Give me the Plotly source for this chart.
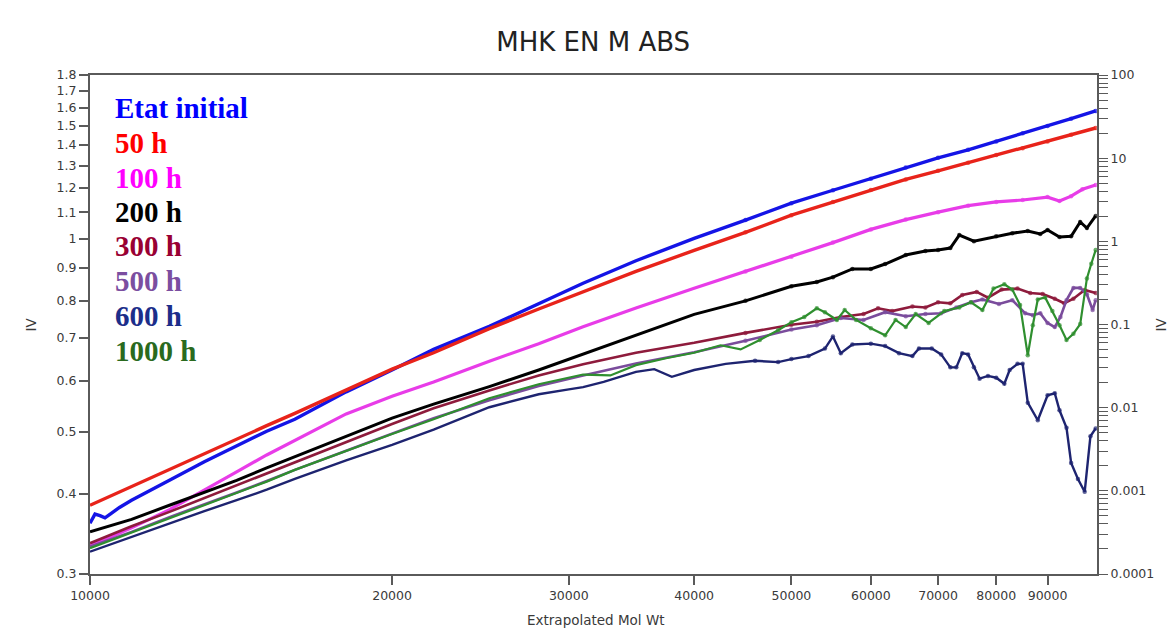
import plotly.graph_objects as go

# ---- Intrinsic viscosity vs extrapolated molecular weight ----
mw_init = [10000, 10115, 10230, 10350, 10500, 10700, 11000, 11500, 12000, 13000, 14000, 15000,
           16000, 18000, 20000, 22000, 25000, 28000, 31000, 35000, 40000, 45000, 50000, 55000,
           60000, 65000, 70000, 75000, 80000, 85000, 90000, 95000, 100500]
iv_init = [0.360, 0.372, 0.370, 0.367, 0.373, 0.381, 0.391, 0.405, 0.420, 0.449, 0.475, 0.501,
           0.523, 0.577, 0.624, 0.672, 0.730, 0.792, 0.852, 0.924, 1.001, 1.069, 1.136, 1.190,
           1.240, 1.291, 1.337, 1.376, 1.418, 1.460, 1.499, 1.539, 1.582]

mw_50 = [10000, 11000, 12000, 13000, 14000, 15000, 16000, 18000, 20000, 22000, 25000, 28000,
         31000, 35000, 40000, 45000, 50000, 55000, 60000, 65000, 70000, 75000, 80000, 85000,
         90000, 95000, 100500]
iv_50 = [0.384, 0.411, 0.437, 0.462, 0.487, 0.511, 0.534, 0.581, 0.626, 0.664, 0.724, 0.777,
         0.827, 0.889, 0.959, 1.023, 1.088, 1.141, 1.191, 1.237, 1.276, 1.314, 1.350, 1.384,
         1.418, 1.452, 1.488]

mw_100 = [10000, 11000, 12000, 13000, 14000, 15000, 16000, 18000, 20000, 22000, 25000, 28000,
          31000, 35000, 40000, 45000, 50000, 55000, 60000, 65000, 70000, 75000, 80000, 85000,
          90000, 92500, 95000, 97500, 100500]
iv_100 = [0.332, 0.354, 0.378, 0.405, 0.433, 0.460, 0.485, 0.533, 0.568, 0.598, 0.644, 0.686,
          0.729, 0.780, 0.837, 0.889, 0.937, 0.986, 1.034, 1.071, 1.100, 1.126, 1.141, 1.149,
          1.161, 1.145, 1.165, 1.194, 1.213]

mw_200 = [10000, 11000, 12000, 13000, 14000, 15000, 16000, 18000, 20000, 22000, 25000, 28000,
          31000, 35000, 40000, 45000, 50000, 53000, 55000, 57500, 60000, 62000, 65000, 68000,
          70000, 72000, 73500, 76000, 80000, 83000, 86000, 88500, 90000, 92500, 95000, 97000,
          98500, 100500]
iv_200 = [0.349, 0.365, 0.384, 0.402, 0.420, 0.439, 0.457, 0.492, 0.525, 0.552, 0.588, 0.624,
          0.661, 0.707, 0.762, 0.800, 0.843, 0.856, 0.871, 0.897, 0.897, 0.913, 0.943, 0.957,
          0.960, 0.967, 1.013, 0.991, 1.009, 1.020, 1.028, 1.017, 1.032, 1.006, 1.009, 1.062,
          1.039, 1.085]

mw_300 = [10000, 11000, 12000, 13000, 14000, 15000, 16000, 18000, 20000, 22000, 25000, 28000,
          31000, 35000, 40000, 45000, 50000, 53000, 56000, 59000, 61000, 63000, 66000, 68000,
          70000, 72000, 74000, 76500, 78500, 81000, 84000, 86500, 89000, 91500, 93500, 95500,
          98000, 100500]
iv_300 = [0.335, 0.356, 0.375, 0.394, 0.412, 0.431, 0.448, 0.482, 0.514, 0.544, 0.580, 0.612,
          0.637, 0.664, 0.688, 0.713, 0.734, 0.742, 0.755, 0.763, 0.779, 0.771, 0.784, 0.781,
          0.796, 0.793, 0.817, 0.826, 0.809, 0.833, 0.836, 0.823, 0.820, 0.806, 0.793, 0.806,
          0.832, 0.823]

mw_500 = [10000, 11000, 12000, 13000, 14000, 15000, 16000, 18000, 20000, 22000, 25000, 28000,
          31000, 35000, 40000, 45000, 50000, 53000, 56000, 59000, 62000, 65000, 68000, 70500,
          73000, 75500, 77500, 80500, 83000, 85500, 87000, 88500, 90000, 91500, 92700, 94000,
          95500, 97000, 98500, 99800, 100500]
iv_500 = [0.331, 0.349, 0.368, 0.385, 0.402, 0.419, 0.436, 0.467, 0.497, 0.525, 0.560, 0.589,
          0.612, 0.639, 0.665, 0.693, 0.722, 0.733, 0.752, 0.747, 0.768, 0.757, 0.763, 0.765,
          0.781, 0.796, 0.804, 0.791, 0.802, 0.765, 0.760, 0.765, 0.739, 0.728, 0.755, 0.802,
          0.838, 0.838, 0.819, 0.774, 0.802]

mw_600 = [10000, 11000, 12000, 13000, 14000, 15000, 16000, 18000, 20000, 22000, 25000, 28000,
          30000, 31000, 32500, 35000, 36500, 38000, 40000, 43000, 46000, 48500, 50000, 52000,
          54000, 55000, 56000, 57500, 60000, 62000, 64000, 66000, 67000, 69000, 70500, 72000,
          73000, 74000, 75000, 76000, 77000, 78500, 80000, 81500, 82500, 84000, 85000, 86000,
          88000, 90000, 91500, 92500, 94000, 95000, 96500, 98000, 99300, 100500]
iv_600 = [0.325, 0.343, 0.360, 0.376, 0.391, 0.406, 0.422, 0.451, 0.477, 0.504, 0.546, 0.572,
          0.582, 0.587, 0.598, 0.620, 0.626, 0.609, 0.624, 0.638, 0.645, 0.642, 0.649, 0.656,
          0.674, 0.704, 0.663, 0.684, 0.686, 0.680, 0.663, 0.656, 0.674, 0.674, 0.660, 0.630,
          0.630, 0.663, 0.660, 0.630, 0.605, 0.611, 0.607, 0.594, 0.624, 0.638, 0.638, 0.555,
          0.521, 0.570, 0.574, 0.540, 0.507, 0.447, 0.422, 0.403, 0.492, 0.506]

mw_1000 = [10000, 11000, 12000, 13000, 14000, 15000, 16000, 18000, 20000, 22000, 25000, 28000,
           31000, 33000, 35000, 37500, 40000, 42500, 44500, 46500, 48500, 50000, 51500, 53000,
           54000, 55500, 56500, 58000, 60000, 62000, 63500, 65000, 66500, 68500, 71000, 73500,
           75500, 77500, 79500, 81500, 83000, 84500, 86000, 87000, 88000, 89500, 91000, 92500,
           94000, 95500, 97000, 98500, 99500, 100500]
iv_1000 = [0.329, 0.348, 0.367, 0.384, 0.402, 0.418, 0.436, 0.467, 0.496, 0.523, 0.564, 0.593,
           0.614, 0.612, 0.635, 0.651, 0.664, 0.682, 0.672, 0.695, 0.720, 0.741, 0.755, 0.779,
           0.768, 0.747, 0.774, 0.747, 0.725, 0.707, 0.747, 0.728, 0.763, 0.739, 0.771, 0.781,
           0.796, 0.774, 0.836, 0.849, 0.833, 0.788, 0.658, 0.733, 0.804, 0.810, 0.771, 0.733,
           0.695, 0.711, 0.736, 0.867, 0.914, 0.960]

series_names = ["Etat initial", "50 h", "100 h", "200 h", "300 h", "500 h", "600 h", "1000 h"]
series_mw = [mw_init, mw_50, mw_100, mw_200, mw_300, mw_500, mw_600, mw_1000]
series_iv = [iv_init, iv_50, iv_100, iv_200, iv_300, iv_500, iv_600, iv_1000]
line_colors = ["#1414E6", "#E8231A", "#E83CE8", "#000000", "#8E1B3C", "#7A4C9C", "#1E2470", "#2F8F2F"]
label_colors = ["#0000FF", "#FF0000", "#FF00FF", "#000000", "#990033", "#7B4EA0", "#1C2E8A", "#2A6A1E"]
line_widths = [3.4, 3.4, 3.2, 3.0, 2.6, 2.6, 2.4, 2.2]

x_ticks = [10000, 20000, 30000, 40000, 50000, 60000, 70000, 80000, 90000]
y_ticks = [0.3, 0.4, 0.5, 0.6, 0.7, 0.8, 0.9, 1.0, 1.1, 1.2, 1.3, 1.4, 1.5, 1.6, 1.7, 1.8]
y_tick_text = ["0.3", "0.4", "0.5", "0.6", "0.7", "0.8", "0.9", "1",
               "1.1", "1.2", "1.3", "1.4", "1.5", "1.6", "1.7", "1.8"]
y2_ticks = [0.0001, 0.001, 0.01, 0.1, 1, 10, 100]
y2_tick_text = ["0.0001", "0.001", "0.01", "0.1", "1", "10", "100"]

fig = go.Figure()

for name, xs, ys, lc, lw in zip(series_names, series_mw, series_iv, line_colors, line_widths):
    # dots mark the sparser, noisier high-mass end of each trace
    sizes = [4.5 if m >= 45000 else 0 for m in xs]
    fig.add_trace(go.Scatter(
        x=xs, y=ys, name=name, mode="lines+markers",
        line=dict(color=lc, width=lw),
        marker=dict(color=lc, size=sizes, line=dict(width=0)),
        showlegend=False,
    ))

# empty trace bound to the secondary (right) axis
fig.add_trace(go.Scatter(x=[], y=[], yaxis="y2", showlegend=False))

tick_font = dict(family="DejaVu Sans, sans-serif", size=12.5, color="#3a3a3a")
title_font = dict(family="DejaVu Sans, sans-serif", size=13.5, color="#3a3a3a")
axis_line = "#5a5a5a"

# coloured text legend in the upper-left corner
label_y_px = [108, 143, 178, 212, 246, 281, 316, 351]
plot_left, plot_w = 90, 1007
plot_top, plot_h = 75, 499
for name, col, py in zip(series_names, label_colors, label_y_px):
    fig.add_annotation(
        x=0.0228, y=(plot_top + plot_h - py) / plot_h, xref="paper", yref="paper",
        xanchor="left", yanchor="middle", showarrow=False, text=name,
        font=dict(family="Liberation Serif, Times New Roman, serif", size=29,
                  color=col, weight="bold"),
    )

# axis titles placed as free text so the plot area keeps its size
fig.add_annotation(x=(30 - plot_left) / plot_w, y=0.5, xref="paper", yref="paper",
                   text="IV", textangle=-90, showarrow=False, font=title_font,
                   xanchor="center", yanchor="middle")
fig.add_annotation(x=(1160 - plot_left) / plot_w, y=0.5, xref="paper", yref="paper",
                   text="IV", textangle=-90, showarrow=False, font=title_font,
                   xanchor="center", yanchor="middle")
fig.add_annotation(x=(596 - plot_left) / plot_w, y=(plot_top + plot_h - 620) / plot_h,
                   xref="paper", yref="paper", text="Extrapolated Mol Wt", showarrow=False,
                   font=title_font, xanchor="center", yanchor="middle")

# right axis: labelled decades plus unlabelled 2..9 ticks in between
y2_all = []
y2_all_text = []
for k in range(-4, 3):
    y2_all.append(10 ** k)
    y2_all_text.append(y2_tick_text[k + 4])
    if k < 2:
        for m in range(2, 10):
            y2_all.append(m * 10 ** k)
            y2_all_text.append("")

fig.update_layout(
    width=1170, height=632,
    margin=dict(l=90, r=73, t=75, b=58),
    paper_bgcolor="white", plot_bgcolor="white",
    title=dict(text="MHK EN M ABS", x=0.507, xanchor="center", y=0.934, yanchor="middle",
               font=dict(family="DejaVu Sans, sans-serif", size=26, color="#222222")),
    xaxis=dict(
        type="log", range=[4, 5.0035], automargin=False,
        tickvals=x_ticks, ticktext=[str(v) for v in x_ticks],
        ticks="outside", ticklen=9, tickwidth=1.5, tickcolor=axis_line,
        showline=True, linecolor=axis_line, linewidth=2, mirror=True,
        showgrid=False, zeroline=False, tickfont=tick_font,
    ),
    yaxis=dict(
        type="log", range=[-0.52288, 0.25527], automargin=False,
        tickvals=y_ticks, ticktext=y_tick_text,
        ticks="outside", ticklen=9, tickwidth=1.5, tickcolor=axis_line,
        showline=True, linecolor=axis_line, linewidth=2,
        showgrid=False, zeroline=False, tickfont=tick_font,
    ),
    yaxis2=dict(
        type="log", range=[-4, 2], overlaying="y", side="right", anchor="x",
        automargin=False,
        tickvals=y2_all, ticktext=y2_all_text,
        ticks="outside", ticklen=9, tickwidth=1.3, tickcolor=axis_line,
        showline=True, linecolor=axis_line, linewidth=2,
        showgrid=False, zeroline=False, tickfont=tick_font,
    ),
)

fig.write_html("out.html")
